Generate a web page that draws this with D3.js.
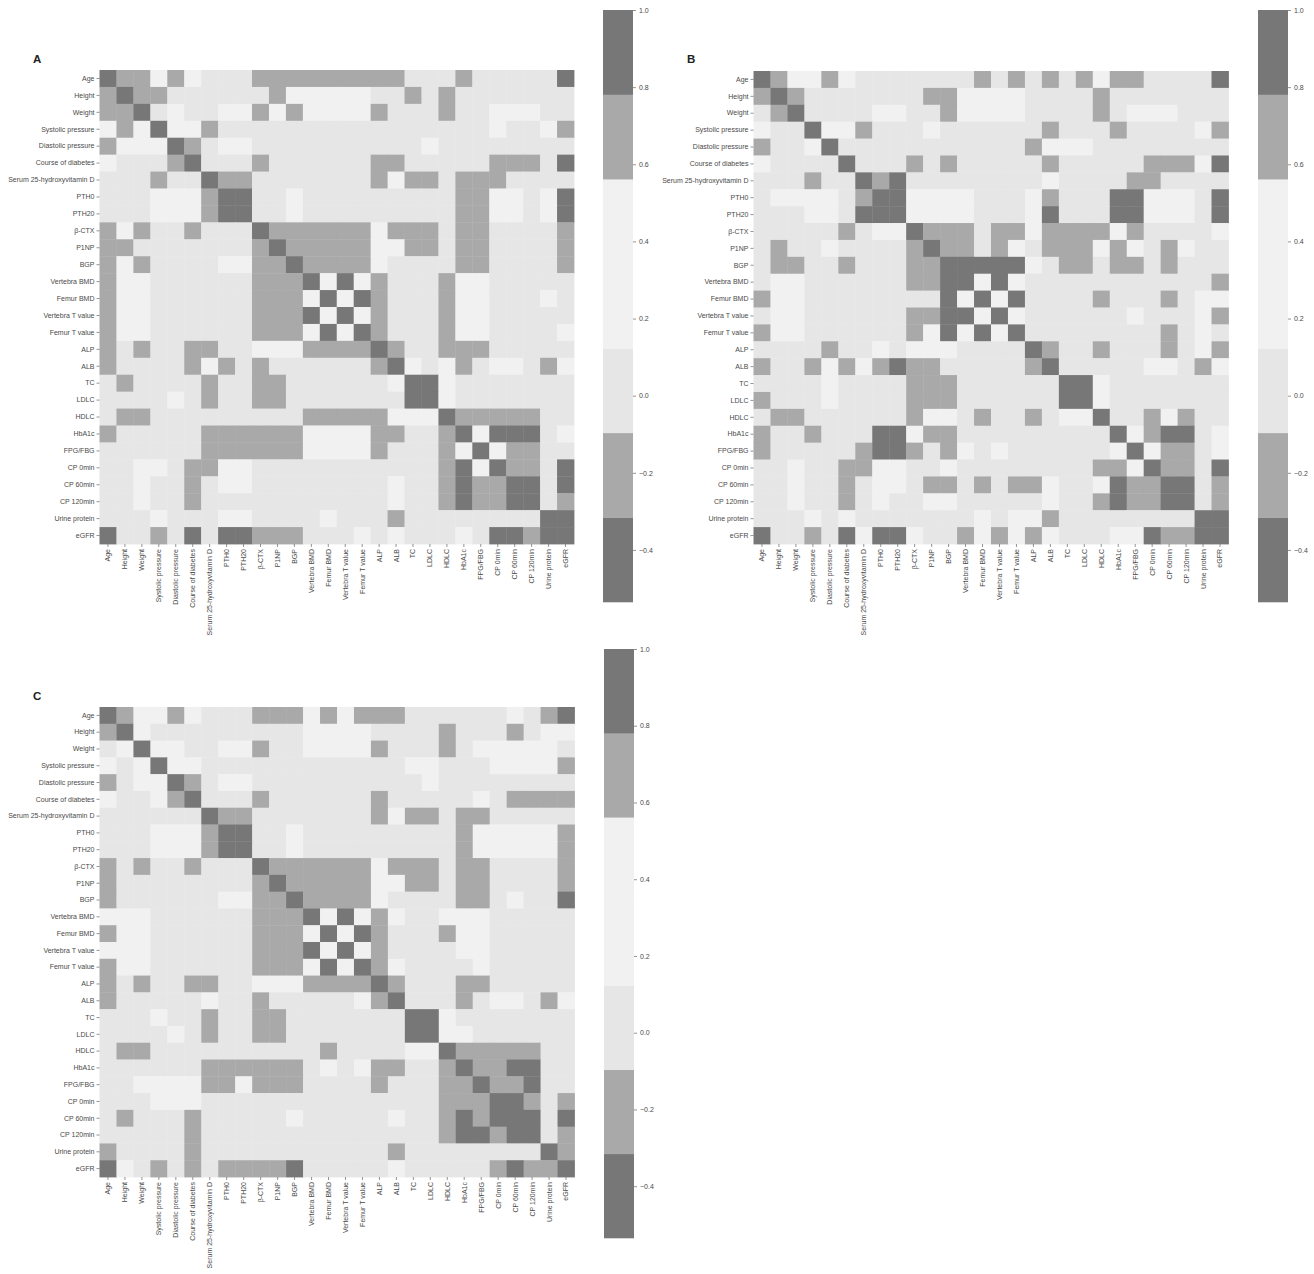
<!DOCTYPE html>
<html><head><meta charset="utf-8">
<script src="https://cdn.jsdelivr.net/npm/d3@7"></script>
<style>body{margin:0;background:#fff}text{font-family:"Liberation Sans",Arial,sans-serif}</style>
</head><body>
<svg id="chart" width="1314" height="1274"></svg>
<script>
const labels = ["Age","Height","Weight","Systolic pressure","Diastolic pressure","Course of diabetes","Serum 25-hydroxyvitamin D","PTH0","PTH20","\u03b2-CTX","P1NP","BGP","Vertebra BMD","Femur BMD","Vertebra T value","Femur T value","ALP","ALB","TC","LDLC","HDLC","HbA1c","FPG/FBG","CP 0min","CP 60min","CP 120min","Urine protein","eGFR"];

// cell levels: D = |r| high, M = moderate, V = weak positive, L = near zero
const levelValue = {D: 0.9, M: 0.66, V: 0.25, L: 0.0};

const matrixA = [
"DMMVMVLLLMMMMMMMMMLLLMLLLLLD",
"MDMMLLLLLLMVVVVVLLMLMLLLLLLL",
"MMDLVLLVVMVMVVVVMLLLMLLVVVLL",
"VMVDVVMLLLLLLLLLLLLLLLLVLLVM",
"MVVVDMLVVLLLLLLLLLLVLLLLLLLL",
"VLLLMDLLLMLLLLLLMMLLLLLMMMLD",
"LLLMLLDMMLLLLLLLMVMMLMMMLLLL",
"LLLVVVMDDLLVLLLLLLLLLMMVVLVD",
"LLLVVVMDDLLVLLLLLLLLLMMVVLVD",
"MVMLLMLLLDMMMMMMVMMMLMMLLLLM",
"MMLLLLLLLMDMMMMMVVMMLMMLLLLM",
"MVMLLLLVVMMDMMMMVLLLLMMLLLLM",
"MVVLLLLLLMMMDVDVMLLLMVVLLLLL",
"MVVLLLLLLMMMVDVDMLLLMVVLLLVL",
"MVVLLLLLLMMMDVDVMLLLMVVLLLLL",
"MVVLLLLLLMMMVDVDMLLLMVVLLLLV",
"MLMLLMMLLVVVMMMMDMLLMMMLLLLL",
"MLLLLMVMLMLLLLLLMDVLVMLVVLMV",
"LMLLLLMLLMMLLLLLLVDDVLLLLLLL",
"LLLLVLMLLMMLLLLLLLDDVLLLLLLL",
"LMMLLLLLLLLLMMMMMVVVDMMMMMLL",
"MLLLLLMMMMMMVVVVMMLLMDVDDDLV",
"LLLLLLMMMMMMVVVVMLLLMVDVMMLL",
"LLVVLMMVVLLLLLLLLLLLMDVDMMLD",
"LLVLLMLVVLLLLLLLLVLLMDMMDDLD",
"LLVLLMLLLLLLLLLLLVLLMDMMDDLM",
"LLLVLLLVVLLLLVLLLMLLLLLLLLDD",
"DLLMLDLDDMMMLLLVLVLLLVLDDMDD"];

const matrixB = [
"DMVVMVLLLLLLLMLMLMLMVMMLLLLD",
"MDMLLLLLLLMMVVVVLLLLMLLLLLLL",
"LMDLLLLVVLLMVVVVLLLLMLVVVLLL",
"VLLDVVMLLLVLLLLLLMLLLMLLLLVM",
"MLLVDLLLLLLLLLLLMVVVLLLLLLLL",
"VLLLLDLLLMLMLLLLLMLLLLLMMMVD",
"LLLMLLDMDLLLLLLLLVLLLLMMLLLL",
"LVVVVLMDDVVVVLLLVMLLLDDVVVLD",
"LLLVVLDDDVVVVLLLVDLLLDDVVVLD",
"LLLLLMLVVDMMMLMMVMMMMVMLLLLV",
"LMLLVLLLLMDMMLMVLMMMVMVLMVLL",
"LMMLLMLLLMMDDDDDVLMMLMMLMLLL",
"LVVLLLLLLMMDDVDVLLLLLLLLLLLM",
"MVVLLLLLLLLDVDVDLLLLMLLLMLVV",
"LVVLLLLLLMMDDVDVLLLLLLVLLLVM",
"MVVLLLLLLMVDVDVDLLLLLLLLMLVL",
"LLLLMLLVLVVVLLLLDMLLMLLLMLVM",
"MLLMVMVMDMMLLLLLMDLLLLLVVLMV",
"LLLLVLLLLMMMLLLLLLDDVLLLLLLL",
"MLLLVLLLLMMMLLLLLLDDVLLLLLLL",
"LMMLLLLLLMVVLMLLMLVVDLLMVMLL",
"MLLMLLLDDVMMLLLLLLLLLDVMDDLV",
"MLLLLLMDDMLMVLVLLLLLLVDVMMLV",
"LLVLLMMVVLLVLLLLLLLLMMVDMMLD",
"LLVLLMLVVLMMLMLMMVLLVDMMDDLM",
"LLVLLMLVLLVVLLLLLVLLMDMMDDLM",
"LLLVLVLLLLLLLVLVVMLLLLLLLLDD",
"DLLMLDVDDVLLMVMVMVLLLVVDMMDD"];

const matrixC = [
"DMVVMVLLLMMMVMVMMMLLLLLLVLMD",
"MDVLLLLLLLLLVVVVLLLLMLLLMLVV",
"LVDVVLLVVMLLVVVVMLLLMLVVVVVL",
"VLVDVVLLLLLLLLLLLLVVLLLVVVVM",
"MLVVDMLVVLLLLLLLLLLVLLLLLLLL",
"VLLVMDLLLMLLLLLLMLLLLLVLMMMM",
"LLLLLLDMMLLLLLLLMVMMLMMLLLLL",
"LLLVVVMDDLLVLLLLLLLLLMVVVVVM",
"LLLVVVMDDLLVLLLLLLLLLMVVVVVM",
"MLMLLMLLLDMMMMMMVMMMLMMLLLLM",
"MLLLLLLLLMDMMMMMVVMMLMMLLLLM",
"MLLLLLLVVMMDMMMMVLLLLMMLVLLD",
"VVVLLLLLLMMMDVDVMVLLVVVLLLLL",
"MVVLLLLLLMMMVDVDMLLLMVVLLLLL",
"VVVLLLLLLMMMDVDVMLLLLVVLLLLL",
"MVVLLLLLLMMMVDVDMVLLLLVLLLLL",
"MLMLLMMLLVVVMMMMDMLLLMMLLLLL",
"MLLLLLVLLMLLLLLVMDLLLMLVVLMV",
"LLLVLLMLLMMLLLLLLLDDVLLLLLLL",
"LLLLVLMLLMMLLLLLLLDDVVLLLLLL",
"LMMLLLLLLLLLLMLLLLVVDMMMMMLL",
"LLLLLLMMMMMMLVLVMMLLMDMMDDLL",
"LLVVVVMMVMMMLLLLMLLLMMDMMDLL",
"LLLVVVLLLLLLLLLLLLLLMMMDDMLM",
"LMLLLMLLLLLVLLLLLVLLMDMDDDLD",
"LLLLLMLLLLLLLLLLLLLLMDDMDDLM",
"MLLLLMLLLLLLLLLLLMLLLLLLLLDM",
"DVLMLMLMMMMDLLLLLVLLLLLMDMMD"];

const colorTicks = [1.0, 0.8, 0.6, 0.4, 0.2, 0.0, -0.2, -0.4];
const valueDomain = [-0.535, 1.0];
const bandColors = ["#777777","#a9a9a9","#e6e6e6","#f1f1f1","#f1f1f1","#a9a9a9","#777777"];

const panels = [
  {name:"A", matrix:matrixA, x0:99.5, x1:574, y0:70, y1:544, cbx:603, cbTop:10, cbBot:602, lx:33, ly:63},
  {name:"B", matrix:matrixB, x0:753.5, x1:1228.5, y0:71, y1:544, cbx:1258, cbTop:10, cbBot:602, lx:687, ly:63},
  {name:"C", matrix:matrixC, x0:99.5, x1:574.5, y0:707, y1:1177, cbx:604, cbTop:649, cbBot:1238, lx:33, ly:700}
];

const svg = d3.select("#chart");
const color = d3.scaleQuantize().domain(valueDomain).range(bandColors);
const fmt = v => d3.format(".1f")(v).replace("-", "\u2212");

panels.forEach(p => {
  const g = svg.append("g");
  const x = d3.scaleBand().domain(labels).range([p.x0, p.x1]);
  const y = d3.scaleBand().domain(labels).range([p.y0, p.y1]);
  const cells = [];
  p.matrix.forEach((row, i) => {
    row.split("").forEach((c, j) => {
      cells.push({r: labels[i], c: labels[j], v: i === j ? 1.0 : levelValue[c]});
    });
  });
  g.append("g").selectAll("rect").data(cells).join("rect")
    .attr("x", d => x(d.c)).attr("y", d => y(d.r))
    .attr("width", x.bandwidth() + 0.4).attr("height", y.bandwidth() + 0.4)
    .attr("fill", d => color(d.v));

  const ya = g.append("g").attr("transform", `translate(${p.x0},0)`)
    .call(d3.axisLeft(y).tickSize(3).tickPadding(2));
  ya.select(".domain").remove();
  ya.selectAll("line").attr("stroke", "#666").attr("stroke-width", 0.7);
  ya.selectAll("text").attr("font-size", 7).attr("fill", "#4a4a4a");

  const xa = g.append("g").attr("transform", `translate(0,${p.y1})`)
    .call(d3.axisBottom(x).tickSize(3).tickPadding(2));
  xa.select(".domain").remove();
  xa.selectAll("line").attr("stroke", "#666").attr("stroke-width", 0.7);
  xa.selectAll("text").attr("font-size", 7).attr("fill", "#4a4a4a")
    .attr("transform", "rotate(-90)").attr("text-anchor", "end")
    .attr("x", -5).attr("y", 0).attr("dy", "0.35em");

  // colorbar
  const cy = d3.scaleLinear().domain(valueDomain).range([p.cbBot, p.cbTop]);
  const edges = [valueDomain[0], ...color.thresholds(), valueDomain[1]];
  const bands = bandColors.map((col, k) => ({lo: edges[k], hi: edges[k + 1], col}));
  g.append("g").selectAll("rect").data(bands).join("rect")
    .attr("x", p.cbx).attr("width", 30)
    .attr("y", d => cy(d.hi)).attr("height", d => cy(d.lo) - cy(d.hi) + 0.3)
    .attr("fill", d => d.col);
  const ca = g.append("g").attr("transform", `translate(${p.cbx + 30},0)`)
    .call(d3.axisRight(cy).tickValues(colorTicks).tickFormat(fmt).tickSize(3).tickPadding(3));
  ca.select(".domain").remove();
  ca.selectAll("line").attr("stroke", "#666").attr("stroke-width", 0.7);
  ca.selectAll("text").attr("font-size", 7).attr("fill", "#4a4a4a");

  g.append("text").attr("x", p.lx).attr("y", p.ly).text(p.name)
    .attr("font-size", 11.5).attr("font-weight", "bold").attr("fill", "#222");
});
</script>
</body></html>
